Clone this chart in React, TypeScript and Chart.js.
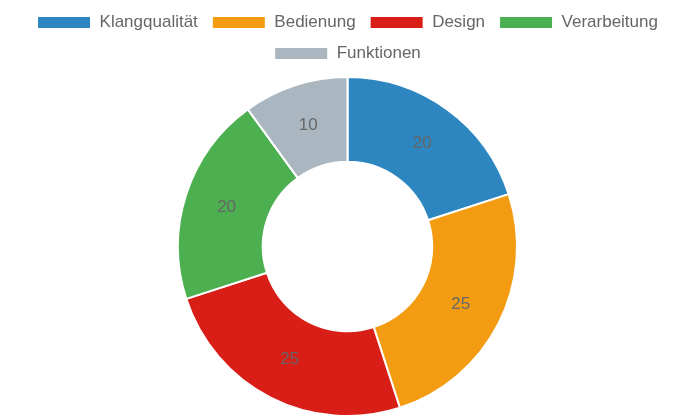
import React, { useEffect, useRef } from 'react';
import { Chart, registerables, Plugin } from 'chart.js';

Chart.register(...registerables);

// Daten
const categories = ['Klangqualität', 'Bedienung', 'Design', 'Verarbeitung', 'Funktionen'];
const values = [20, 25, 25, 20, 10];
const colors = ['#2E86C1', '#F39C12', '#D91E18', '#4CAF50', '#AAB7C0'];

const FONT = '"Liberation Sans", Arial, Helvetica, sans-serif';

// Werte in die Mitte der Segmente schreiben
const sliceLabels: Plugin<'doughnut'> = {
  id: 'sliceLabels',
  afterDatasetsDraw(chart) {
    const { ctx } = chart;
    const meta = chart.getDatasetMeta(0);
    ctx.save();
    ctx.font = `17px ${FONT}`;
    ctx.fillStyle = '#666666';
    ctx.textAlign = 'center';
    ctx.textBaseline = 'middle';
    meta.data.forEach((arc, i) => {
      const { x, y } = arc.tooltipPosition(true);
      ctx.fillText(String(values[i]), x, y);
    });
    ctx.restore();
  },
};

// etwas mehr Abstand unter der Legende
const legendGap: Plugin<'doughnut'> = {
  id: 'legendGap',
  beforeInit(chart: any) {
    const legend = chart.legend;
    if (!legend) return;
    const origFit = legend.fit;
    legend.fit = function () {
      origFit.call(this);
      this.height += 4;
    };
  },
};

const App: React.FC = () => {
  const canvasRef = useRef<HTMLCanvasElement>(null);
  const chartRef = useRef<Chart | null>(null);

  useEffect(() => {
    document.body.style.margin = '0';
    if (!canvasRef.current) return;
    if (chartRef.current) chartRef.current.destroy();

    chartRef.current = new Chart(canvasRef.current, {
      type: 'doughnut',
      data: {
        labels: categories,
        datasets: [
          {
            data: values,
            backgroundColor: colors,
            borderColor: '#ffffff',
            borderWidth: 2,
          },
        ],
      },
      options: {
        responsive: true,
        maintainAspectRatio: false,
        animation: false,
        cutout: '50%',
        layout: { padding: 0 },
        plugins: {
          legend: {
            position: 'top',
            labels: {
              boxWidth: 54,
              boxHeight: 13,
              padding: 14,
              color: '#666666',
              font: { size: 17, family: FONT },
            },
          },
          tooltip: { enabled: false },
        },
      },
      plugins: [legendGap, sliceLabels],
    });

    return () => {
      if (chartRef.current) {
        chartRef.current.destroy();
        chartRef.current = null;
      }
    };
  }, []);

  return (
    <div style={{ width: 695, height: 417, position: 'relative' }}>
      <canvas ref={canvasRef}></canvas>
    </div>
  );
};

export default App;
